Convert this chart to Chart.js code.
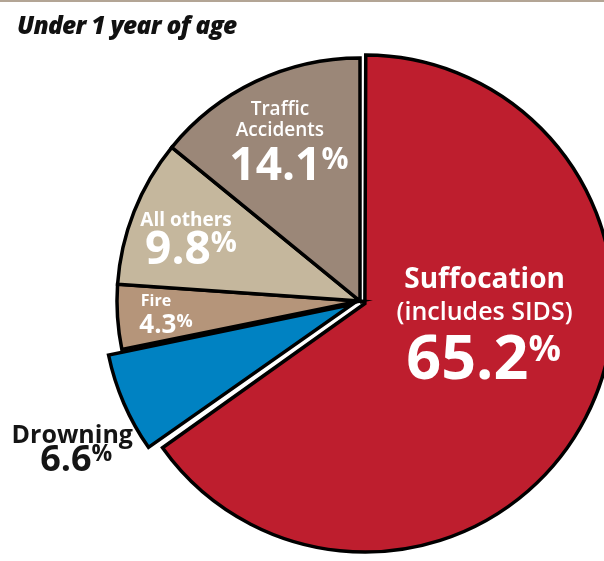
<!DOCTYPE html>
<html>
<head>
<meta charset="utf-8">
<script src="https://cdn.jsdelivr.net/npm/chart.js@4"></script>
<style>
  html, body { margin: 0; padding: 0; background: #fff; }
  #wrap { position: relative; width: 604px; height: 561px; overflow: hidden; }
  #topline { position: absolute; left: 0; top: 0; width: 604px; height: 2px; background: #b3a595; }
  #title { position: absolute; left: 17px; top: 8px; font: italic 800 24.5px 'Open Sans', sans-serif; letter-spacing: -0.7px; color: #111; }
  canvas { position: absolute; left: 0; top: 0; }
</style>
</head>
<body>
<div id="wrap">
  <canvas id="pie" width="604" height="561"></canvas>
  <div id="topline"></div>
  <div id="title">Under 1 year of age</div>
</div>
<script>
// Causes of death, clockwise from 12 o'clock
const categories = ['Suffocation', 'Drowning', 'Fire', 'All others', 'Traffic Accidents'];
const shares = [65.2, 6.6, 4.3, 9.8, 14.1];
const sliceColors = ['#be1e2e', '#0082c2', '#b5957a', '#c5b79d', '#9b8778'];
const sliceOffsets = [22, 36, 0, 0, 0];

// label text lines per slice (the % value line is added from shares)
const labelLines = [
    ['Suffocation', '(includes SIDS)'],
    ['Drowning'],
    ['Fire'],
    ['All others'],
    ['Traffic', 'Accidents']
];

// label layout: angle shift from slice middle (deg), radius fraction,
// name lines as [size, weight, dx, dy], number size, % size, number dy
const labelLayout = [
    { shift: -18.3, r: 0.515, color: '#fff', names: [[28, 700, 1, -33], [25, 600, 1, -1]], num: 61, pct: 36, numDy: 58 },
    { shift: -4.4, r: 1.32, color: '#151515', names: [[25, 700, -4, -8]], num: 36, pct: 23, numDy: 20 },
    { shift: 0.2, r: 0.80, color: '#fff', names: [[16, 700, -10, -7]], num: 26, pct: 18, numDy: 20 },
    { shift: -1.6, r: 0.74, color: '#fff', names: [[19, 700, -5, -13]], num: 46, pct: 29, numDy: 25 },
    { shift: 1.4, r: 0.72, color: '#fff', names: [[19, 600, -9, -26], [19, 600, -9, -5]], num: 46, pct: 30, numDy: 39 }
];

const sliceLabels = {
    id: 'sliceLabels',
    afterDatasetsDraw(chart) {
        const ctx = chart.ctx;
        const meta = chart.getDatasetMeta(0);
        meta.data.forEach((arc, i) => {
            const p = arc.getProps(['x', 'y', 'startAngle', 'endAngle', 'outerRadius']);
            const lay = labelLayout[i];
            const ang = (p.startAngle + p.endAngle) / 2 + lay.shift * Math.PI / 180;
            const cx = p.x + Math.cos(ang) * p.outerRadius * lay.r;
            const cy = p.y + Math.sin(ang) * p.outerRadius * lay.r;

            ctx.save();
            ctx.fillStyle = lay.color;
            ctx.textAlign = 'center';
            ctx.textBaseline = 'alphabetic';
            labelLines[i].forEach((line, j) => {
                const [size, weight, dx, dy] = lay.names[j];
                ctx.font = `${weight} ${size}px "Open Sans", sans-serif`;
                ctx.fillText(line, cx + dx, cy + dy);
            });

            // big number with a smaller raised % sign
            const num = shares[i].toFixed(1);
            const numFont = `700 ${lay.num}px "Open Sans", sans-serif`;
            const pctFont = `700 ${lay.pct}px "Open Sans", sans-serif`;
            ctx.font = numFont;
            const wNum = ctx.measureText(num).width;
            ctx.font = pctFont;
            const wPct = ctx.measureText('%').width;
            const x0 = cx - (wNum + wPct) / 2;
            const base = cy + lay.numDy;
            ctx.textAlign = 'left';
            ctx.font = numFont;
            ctx.fillText(num, x0, base);
            ctx.font = pctFont;
            ctx.fillText('%', x0 + wNum, base - (lay.num - lay.pct) * 0.714);
            ctx.restore();
        });
    }
};

new Chart(document.getElementById('pie'), {
    type: 'pie',
    data: {
        labels: categories,
        datasets: [{
            data: shares,
            backgroundColor: sliceColors,
            borderColor: '#000',
            borderWidth: 3.5,
            borderJoinStyle: 'miter',
            offset: sliceOffsets
        }]
    },
    options: {
        responsive: false,
        animation: false,
        radius: 243,
        layout: { padding: { left: 116, top: 41, right: 0, bottom: 0 } },
        plugins: {
            legend: { display: false },
            tooltip: { enabled: false }
        }
    },
    plugins: [sliceLabels]
});
</script>
</body>
</html>
